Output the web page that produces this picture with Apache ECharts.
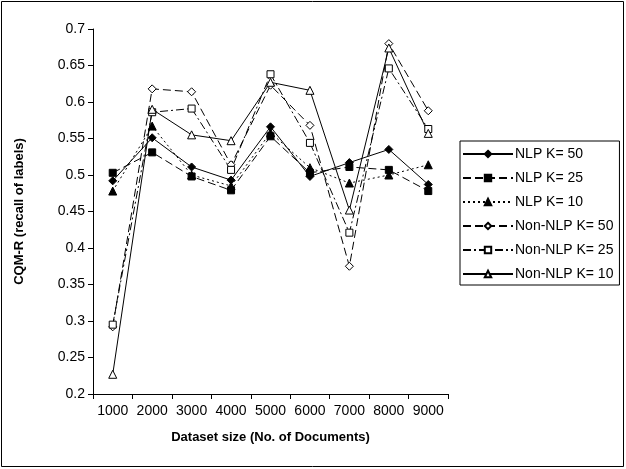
<!DOCTYPE html>
<html><head><meta charset="utf-8">
<script src="https://cdn.jsdelivr.net/npm/echarts@6/dist/echarts.min.js"></script>
<style>html,body{margin:0;padding:0;background:#fff}#c{width:626px;height:469px}</style>
</head><body><div id="c"></div>
<script>
var categories = ['1000','2000','3000','4000','5000','6000','7000','8000','9000'];
var nlpK50    = [0.492, 0.551, 0.511, 0.493, 0.566, 0.498, 0.517, 0.535, 0.487];
var nlpK25    = [0.503, 0.531, 0.498, 0.479, 0.553, 0.503, 0.511, 0.507, 0.478];
var nlpK10    = [0.478, 0.567, 0.500, 0.485, 0.558, 0.510, 0.489, 0.500, 0.514];
var nonNlpK50 = [0.292, 0.618, 0.614, 0.514, 0.623, 0.568, 0.375, 0.680, 0.588];
var nonNlpK25 = [0.295, 0.586, 0.591, 0.507, 0.638, 0.544, 0.421, 0.646, 0.563];
var nonNlpK10 = [0.227, 0.590, 0.555, 0.547, 0.627, 0.616, 0.452, 0.674, 0.557];

var font = 'Liberation Sans, Arial, sans-serif';
function mk(name, data, symbol, filled, dash, size) {
  return {
    name: name, type: 'line', data: data, symbol: symbol, symbolSize: size,
    showAllSymbol: true,
    lineStyle: {color: '#000', width: 1, type: dash},
    itemStyle: {color: filled ? '#000' : '#fff', borderColor: '#000', borderWidth: 1},
    emphasis: {disabled: true}, animation: false
  };
}
var chart = echarts.init(document.getElementById('c'));
chart.setOption({
  animation: false,
  graphic: [{type: 'rect', shape: {x: 1.5, y: 1.5, width: 622, height: 465}, style: {fill: 'none', stroke: '#000', lineWidth: 1}, silent: true}],
  grid: {left: 93, right: 178, top: 29, bottom: 75, containLabel: false},
  xAxis: {
    type: 'category', data: categories, boundaryGap: true,
    name: 'Dataset size (No. of Documents)', nameLocation: 'middle', nameGap: 37,
    nameTextStyle: {fontFamily: font, fontSize: 13, fontWeight: 'bold', color: '#000'},
    axisLine: {lineStyle: {color: '#000', width: 1}},
    axisTick: {show: true, alignWithLabel: false, length: 5, lineStyle: {color: '#000'}},
    axisLabel: {fontFamily: font, fontSize: 14, color: '#000', margin: 10, interval: 0},
    splitLine: {show: false}
  },
  yAxis: {
    type: 'value', min: 0.2, max: 0.7, interval: 0.05,
    name: 'CQM-R (recall of labels)', nameLocation: 'middle', nameGap: 67, nameRotate: 90,
    nameTextStyle: {fontFamily: font, fontSize: 13, fontWeight: 'bold', color: '#000'},
    axisLine: {show: true, lineStyle: {color: '#000', width: 1}},
    axisTick: {show: true, length: 5, lineStyle: {color: '#000'}},
    axisLabel: {fontFamily: font, fontSize: 14, color: '#000', margin: 8},
    splitLine: {show: false}
  },
  legend: {
    orient: 'vertical', left: 460, top: 141, width: 158,
    padding: [6, 6, 4, 2], itemGap: 10, itemWidth: 50, itemHeight: 8,
    borderColor: '#000', borderWidth: 1, backgroundColor: '#fff',
    textStyle: {fontFamily: font, fontSize: 14, color: '#000', padding: [0, 0, 0, -3]},
    data: ['NLP K= 50','NLP K= 25','NLP K= 10','Non-NLP K= 50','Non-NLP K= 25','Non-NLP K= 10']
  },
  series: [
    mk('NLP K= 50', nlpK50, 'diamond', true, 'solid', 8),
    mk('NLP K= 25', nlpK25, 'rect', true, [8, 4], 7),
    mk('NLP K= 10', nlpK10, 'triangle', true, [2, 3], 8),
    mk('Non-NLP K= 50', nonNlpK50, 'diamond', false, [8, 4], 8),
    mk('Non-NLP K= 25', nonNlpK25, 'rect', false, [8, 3, 2, 3], 7),
    mk('Non-NLP K= 10', nonNlpK10, 'triangle', false, 'solid', 8)
  ]
});
</script></body></html>
